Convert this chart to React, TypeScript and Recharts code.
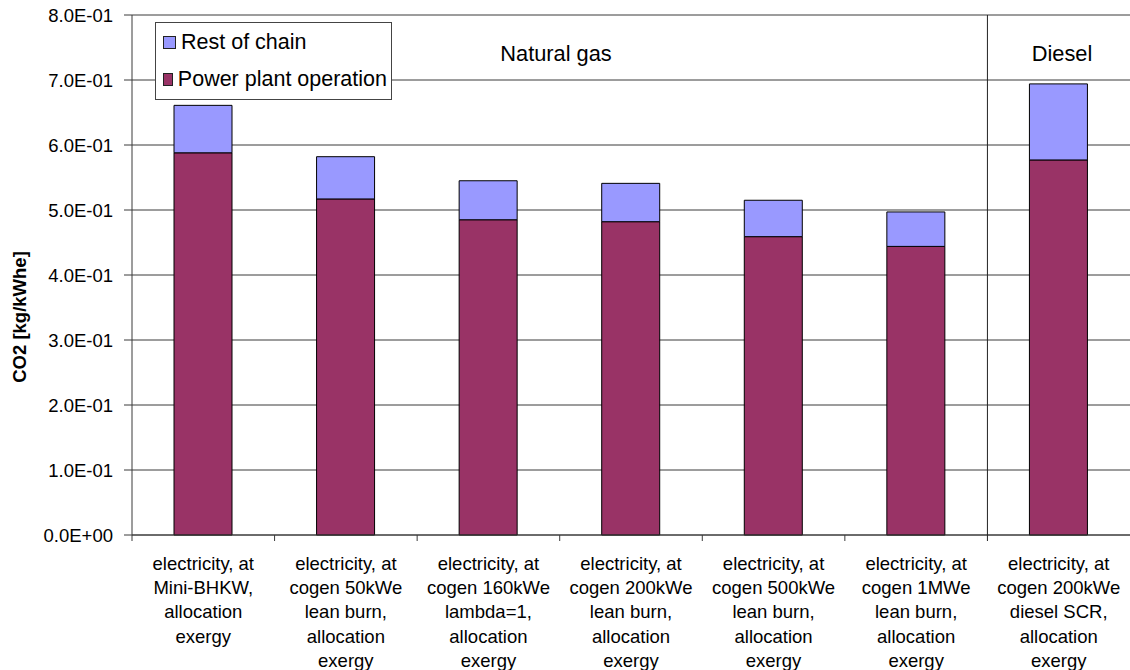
import { BarChart, Bar, XAxis, YAxis, CartesianGrid } from 'recharts';

const categoryLines = [
  ['electricity, at', 'Mini-BHKW,', 'allocation', 'exergy'],
  ['electricity, at', 'cogen 50kWe', 'lean burn,', 'allocation', 'exergy'],
  ['electricity, at', 'cogen 160kWe', 'lambda=1,', 'allocation', 'exergy'],
  ['electricity, at', 'cogen 200kWe', 'lean burn,', 'allocation', 'exergy'],
  ['electricity, at', 'cogen 500kWe', 'lean burn,', 'allocation', 'exergy'],
  ['electricity, at', 'cogen 1MWe', 'lean burn,', 'allocation', 'exergy'],
  ['electricity, at', 'cogen 200kWe', 'diesel SCR,', 'allocation', 'exergy'],
];

const powerPlant = [0.588, 0.517, 0.485, 0.482, 0.459, 0.444, 0.577];
const restOfChain = [0.073, 0.065, 0.06, 0.059, 0.056, 0.053, 0.117];
const yTicks = [0, 0.1, 0.2, 0.3, 0.4, 0.5, 0.6, 0.7, 0.8];

const data = categoryLines.map((lines, i) => ({
  name: lines.join('\n'),
  power: powerPlant[i],
  rest: restOfChain[i],
}));

const FONT = 'Liberation Sans, Arial, sans-serif';
const W = 1130;
const H = 670;
const PLOT_LEFT = 132;
const PLOT_TOP = 15;
const AXIS_Y = 535;
const HALF = (W - PLOT_LEFT) / categoryLines.length / 2;
const LINE = '#3a3a3a';

const sci = (v: number) => {
  if (v === 0) return '0.0E+00';
  const exp = Math.floor(Math.log10(v) + 1e-9);
  const mant = v / Math.pow(10, exp);
  return mant.toFixed(1) + 'E' + (exp < 0 ? '-' : '+') + String(Math.abs(exp)).padStart(2, '0');
};

const CategoryTick = (props: any) => {
  const { x, payload, index } = props;
  const lines = String(payload.value).split('\n');
  const bx = x - HALF;
  return (
    <g>
      {index === categoryLines.length - 1 ? (
        <line x1={bx} x2={bx} y1={PLOT_TOP} y2={AXIS_Y + 6} stroke="#222" />
      ) : (
        <line x1={bx} x2={bx} y1={AXIS_Y} y2={AXIS_Y + 6} stroke={LINE} />
      )}
      {lines.map((l, i) => (
        <text
          key={i}
          x={x}
          y={AXIS_Y + 35 + i * 24.2}
          textAnchor="middle"
          fontSize={18.5}
          fontFamily={FONT}
          fill="#000"
        >
          {l}
        </text>
      ))}
    </g>
  );
};

const YTitle = () => (
  <text
    x={19}
    y={317}
    transform="rotate(-90 19 317)"
    textAnchor="middle"
    dominantBaseline="central"
    fontSize={18.5}
    fontWeight="bold"
    fontFamily={FONT}
    fill="#000"
  >
    CO2 [kg/kWhe]
  </text>
);

const legendItems = [
  { label: 'Rest of chain', color: '#9999FF' },
  { label: 'Power plant operation', color: '#993366' },
];

const labelStyle = {
  position: 'absolute' as const,
  top: 54,
  transform: 'translate(-50%, -50%)',
  fontFamily: FONT,
  fontSize: 21.8,
  whiteSpace: 'nowrap' as const,
};

export default function App() {
  return (
    <div style={{ position: 'absolute', left: 0, top: 0, width: W, height: H, background: '#fff' }}>
      <BarChart
        width={W}
        height={H}
        data={data}
        margin={{ top: PLOT_TOP, right: 0, left: 0, bottom: 0 }}
        barSize={58}
      >
        <CartesianGrid vertical={false} stroke={LINE} />
        <XAxis
          dataKey="name"
          interval={0}
          height={H - AXIS_Y}
          tickLine={false}
          axisLine={{ stroke: LINE }}
          tick={<CategoryTick />}
        />
        <YAxis
          width={PLOT_LEFT}
          domain={[0, 0.8]}
          ticks={yTicks}
          tickFormatter={sci}
          tickSize={8}
          tickMargin={11}
          axisLine={{ stroke: LINE }}
          tickLine={{ stroke: LINE }}
          tick={{ fontSize: 18.5, fill: '#000', fontFamily: FONT }}
          label={<YTitle />}
        />
        <Bar dataKey="power" stackId="a" fill="#993366" stroke="#000" isAnimationActive={false} />
        <Bar dataKey="rest" stackId="a" fill="#9999FF" stroke="#000" isAnimationActive={false} />
      </BarChart>
      <div
        style={{
          position: 'absolute',
          left: 155,
          top: 22,
          background: '#fff',
          border: '1px solid #444',
          padding: '1px 4px 1px 7px',
          fontFamily: FONT,
          fontSize: 21.5,
          lineHeight: '37px',
          width: 224,
        }}
      >
        {legendItems.map((it) => (
          <div key={it.label} style={{ display: 'flex', alignItems: 'center', whiteSpace: 'nowrap' }}>
            <span
              style={{
                display: 'inline-block',
                width: 11,
                height: 11,
                background: it.color,
                border: '1px solid #222',
                marginRight: 5,
              }}
            />
            {it.label}
          </div>
        ))}
      </div>
      <div style={{ ...labelStyle, left: 556 }}>Natural gas</div>
      <div style={{ ...labelStyle, left: 1062 }}>Diesel</div>
    </div>
  );
}
